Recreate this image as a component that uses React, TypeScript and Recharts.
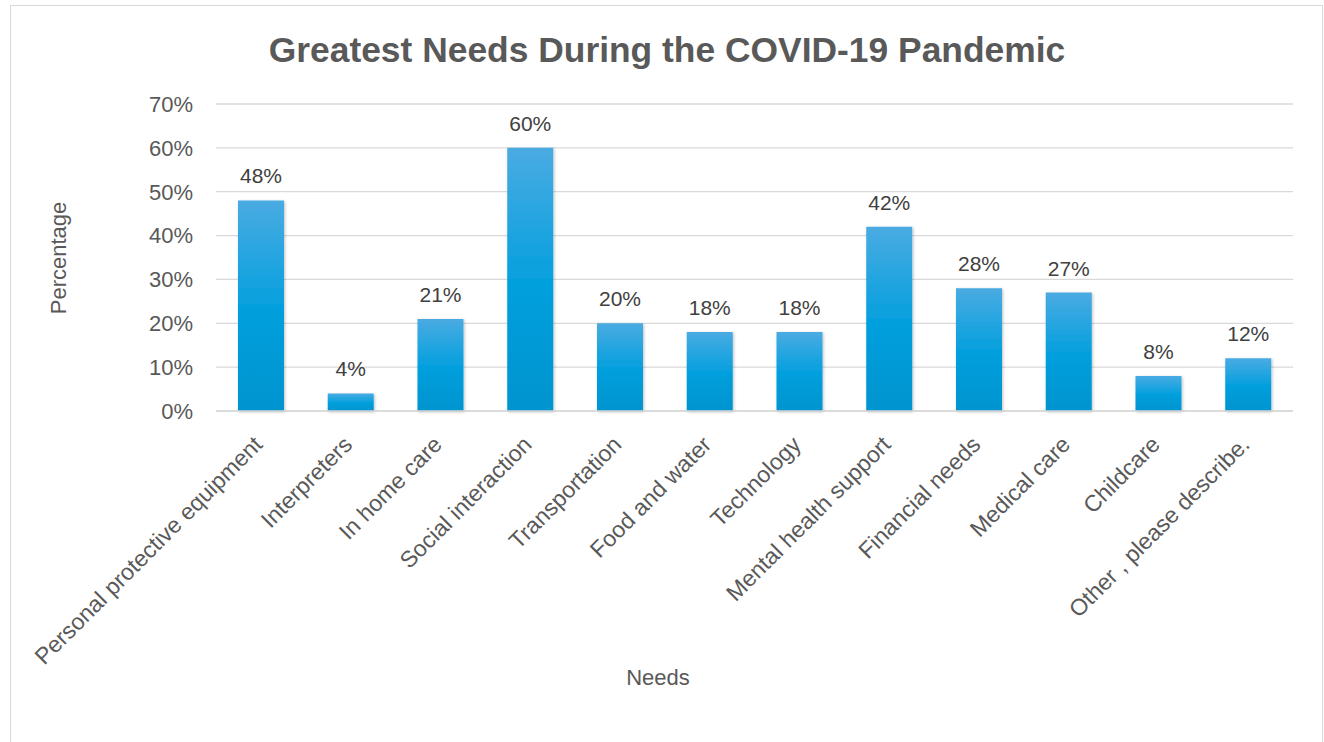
import React from "react";
import { BarChart, Bar, XAxis, YAxis, CartesianGrid, LabelList } from "recharts";

const categories = [
  "Personal protective equipment",
  "Interpreters",
  "In home care",
  "Social interaction",
  "Transportation",
  "Food and water",
  "Technology",
  "Mental health support",
  "Financial needs",
  "Medical care",
  "Childcare",
  "Other , please describe.",
];
const percentages = [48, 4, 21, 60, 20, 18, 18, 42, 28, 27, 8, 12];
const yTicks = [0, 10, 20, 30, 40, 50, 60, 70];

const data = categories.map((name, i) => ({ name, value: percentages[i] }));

const TEXT = "#595959";
const FONT = "'Liberation Sans', Arial, sans-serif";

const XTick = (props: any) => {
  const { x, y, payload } = props;
  const ax = x + 3;
  const ay = y + 35;
  return (
    <text
      x={ax}
      y={ay}
      transform={`rotate(-45, ${ax}, ${ay})`}
      textAnchor="end"
      fill={TEXT}
      fontSize={23}
      fontFamily={FONT}
    >
      {payload.value}
    </text>
  );
};

export default function App() {
  return (
    <div
      style={{
        position: "absolute",
        left: 10,
        top: 5,
        width: 1311,
        height: 745,
        border: "1px solid #d9d9d9",
        background: "#fff",
      }}
    >
      <BarChart
        width={1311}
        height={740}
        data={data}
        margin={{ top: 98, right: 29, left: 0, bottom: 0 }}
        barCategoryGap="24.5%"
      >
        <defs>
          <linearGradient id="barGrad" x1="0" y1="0" x2="0" y2="1">
            <stop offset="0%" stopColor="#4aabe2" />
            <stop offset="50%" stopColor="#06a0de" />
            <stop offset="100%" stopColor="#0394cf" />
          </linearGradient>
          <filter id="barShadow" x="-20%" y="-20%" width="140%" height="140%">
            <feDropShadow dx="1" dy="1" stdDeviation="1.5" floodColor="#000" floodOpacity="0.25" />
          </filter>
        </defs>
        <CartesianGrid vertical={false} stroke="#d9d9d9" strokeWidth={1.3} />
        <XAxis
          dataKey="name"
          height={335}
          interval={0}
          tick={<XTick />}
          tickLine={false}
          tickSize={0}
          tickMargin={0}
          axisLine={{ stroke: "#d9d9d9", strokeWidth: 1.3 }}
        />
        <YAxis
          width={205}
          domain={[0, 70]}
          ticks={yTicks}
          interval={0}
          tickFormatter={(v: number) => `${v}%`}
          axisLine={false}
          tickLine={false}
          tickSize={0}
          tickMargin={23}
          tick={{ fill: TEXT, fontSize: 22, fontFamily: FONT }}
        />
        <Bar
          dataKey="value"
          fill="url(#barGrad)"
          filter="url(#barShadow)"
          isAnimationActive={false}
        >
          <LabelList
            dataKey="value"
            position="top"
            offset={17}
            formatter={(v: number) => `${v}%`}
            style={{ fill: "#404040", fontSize: 21, fontFamily: FONT }}
          />
        </Bar>
      </BarChart>
      <svg
        width={1311}
        height={740}
        style={{ position: "absolute", left: 0, top: 0, pointerEvents: "none" }}
      >
        <text
          x={656}
          y={56}
          textAnchor="middle"
          fill={TEXT}
          fontSize={35.4}
          fontWeight="bold"
          fontFamily={FONT}
        >
          Greatest Needs During the COVID-19 Pandemic
        </text>
        <text
          x={0}
          y={0}
          transform="translate(55, 252) rotate(-90)"
          textAnchor="middle"
          fill={TEXT}
          fontSize={22}
          fontFamily={FONT}
        >
          Percentage
        </text>
        <text
          x={647}
          y={679}
          textAnchor="middle"
          fill={TEXT}
          fontSize={22}
          fontFamily={FONT}
        >
          Needs
        </text>
      </svg>
    </div>
  );
}
